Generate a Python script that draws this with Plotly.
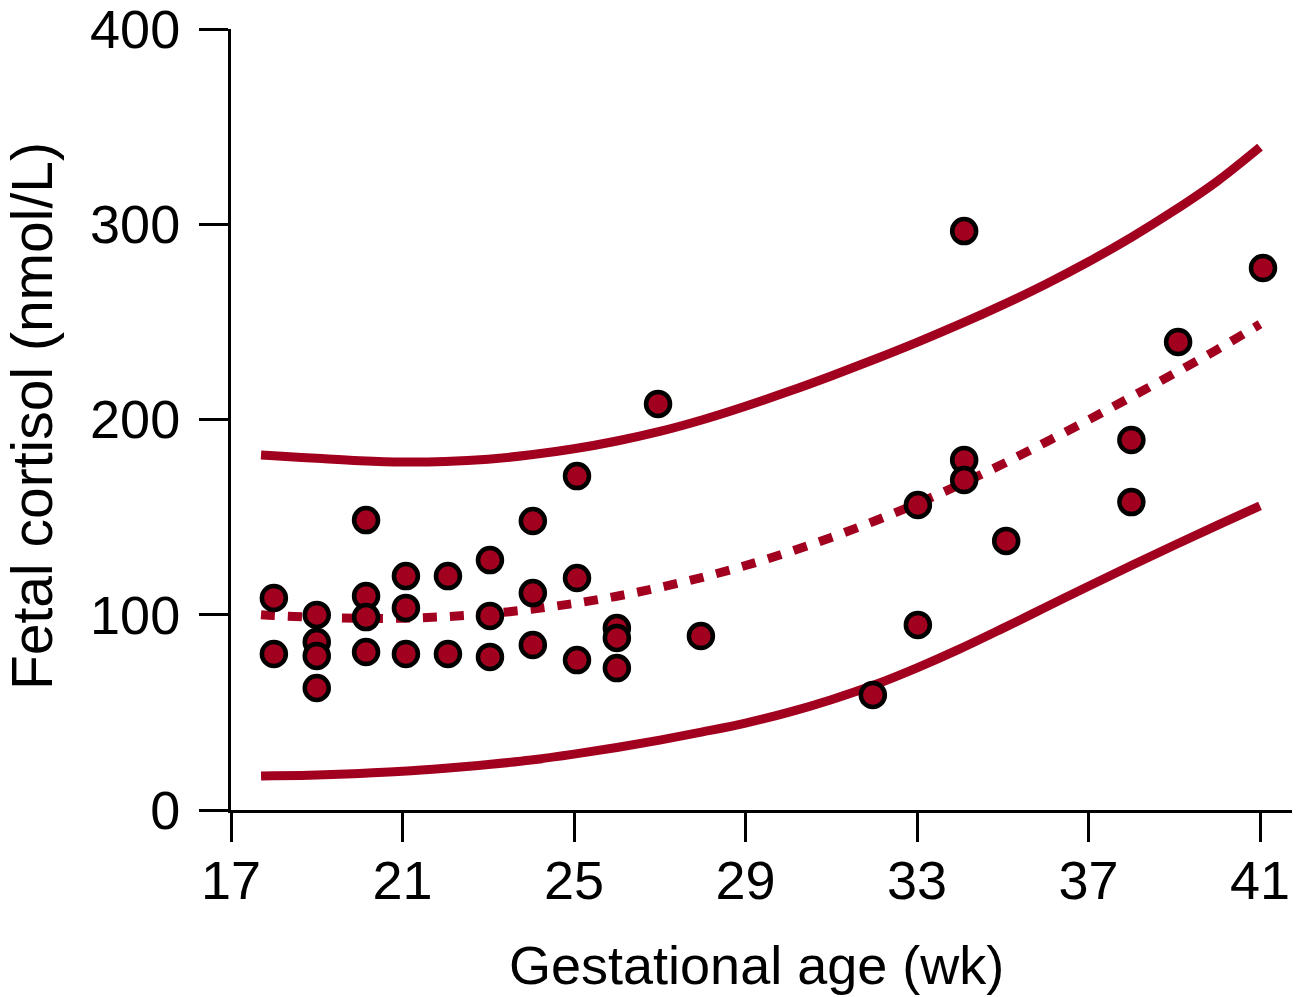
import plotly.graph_objects as go

# Observed data points (gestational age in weeks, fetal cortisol nmol/L)
weeks = [18.0, 18.0, 19.0, 19.0, 19.0, 19.0,
         20.15, 20.15, 20.15, 20.15,
         21.08, 21.08, 21.08,
         22.06, 22.06,
         23.04, 23.04, 23.04,
         24.04, 24.04, 24.04,
         25.07, 25.07, 25.07,
         26.0, 26.0, 26.0,
         26.96, 27.96, 31.97,
         33.02, 33.02,
         34.1, 34.1, 34.1,
         35.08, 38.0, 38.0, 39.09, 41.07]
cortisol = [108.6, 79.9, 99.9, 86.0, 78.9, 62.5,
            148.5, 109.6, 98.8, 80.9,
            119.8, 103.5, 79.9,
            119.8, 79.9,
            128.0, 99.4, 78.4,
            148.0, 111.1, 84.5,
            171.0, 118.8, 76.8,
            93.2, 88.1, 72.7,
            208.0, 89.1, 58.9,
            156.2, 94.8,
            296.5, 179.3, 169.0,
            137.8, 189.5, 157.7, 239.7, 277.6]

# Curves
curve_weeks = [17.7, 18, 19, 20, 21, 22, 23, 24, 25, 26, 27, 28, 29,
               30, 31, 32, 33, 34, 35, 36, 37, 38, 39, 40, 41]
upper = [181.8, 181.4, 180.1, 178.9, 178.2, 178.5, 179.7, 181.9, 185.0, 189.0,
         193.9, 199.9, 206.8, 214.3, 222.3, 230.7, 239.5, 248.8, 258.7, 269.3,
         280.8, 293.3, 307.0, 322.0, 339.5]
mean = [100.0, 99.6, 98.7, 98.2, 98.2, 99.0, 100.5, 102.8, 105.8, 109.5,
        114.0, 119.2, 125.2, 132.0, 139.6, 147.9, 156.9, 166.7, 177.2, 188.4,
        199.8, 211.6, 223.6, 235.8, 248.8]
lower = [17.4, 17.5, 17.9, 18.7, 19.8, 21.4, 23.3, 25.6, 28.6, 32.0,
         35.8, 40.0, 44.5, 50.0, 56.5, 64.0, 72.8, 82.5, 93.0, 103.8,
         114.6, 125.2, 135.6, 145.8, 155.8]

x_ticks = [17, 21, 25, 29, 33, 37, 41]
y_ticks = [0, 100, 200, 300, 400]

RED = "#A2001F"
FONT = "Liberation Sans, Arial, Helvetica, sans-serif"

fig = go.Figure()
fig.add_trace(go.Scatter(x=curve_weeks, y=upper, mode="lines",
                         line=dict(color=RED, width=9, shape="spline"),
                         showlegend=False, hoverinfo="skip"))
fig.add_trace(go.Scatter(x=curve_weeks, y=lower, mode="lines",
                         line=dict(color=RED, width=9, shape="spline"),
                         showlegend=False, hoverinfo="skip"))
fig.add_trace(go.Scatter(x=curve_weeks, y=mean, mode="lines",
                         line=dict(color=RED, width=9, shape="spline", dash="14px,13px"),
                         showlegend=False, hoverinfo="skip"))
fig.add_trace(go.Scatter(x=weeks, y=cortisol, mode="markers",
                         marker=dict(size=24, color=RED, line=dict(color="black", width=4.5)),
                         showlegend=False, cliponaxis=False))

fig.update_layout(
    width=1292, height=989,
    margin=dict(l=223, r=0, t=21, b=187),
    paper_bgcolor="white", plot_bgcolor="white",
    font=dict(family=FONT, size=54, color="black"),
    annotations=[
        dict(text="Gestational age (wk)", xref="paper", yref="paper", x=0.5, y=0,
             xanchor="center", yanchor="middle", xshift=-9.5, yshift=-155,
             showarrow=False, font=dict(size=54)),
        dict(text="Fetal cortisol (nmol/L)", xref="paper", yref="paper", x=0, y=0.5,
             xanchor="center", yanchor="middle", xshift=-199, yshift=3.5,
             textangle=-90, showarrow=False, font=dict(size=57)),
    ],
)
fig.update_xaxes(
    range=[17, 17 + (1300 - 231) / 42.875],
    tickvals=x_ticks, ticktext=[str(v) for v in x_ticks],
    ticks="outside", ticklen=29, tickwidth=3, tickcolor="black",
    showline=True, linewidth=3, linecolor="black",
    showgrid=False, zeroline=False,
    tickfont=dict(size=54), ticklabelstandoff=-8, ticklabeloverflow="allow",
    automargin=False,
)
fig.update_yaxes(
    range=[0, 400],
    tickvals=y_ticks, ticktext=[str(v) for v in y_ticks],
    ticks="outside", ticklen=29, tickwidth=3, tickcolor="black",
    showline=True, linewidth=3, linecolor="black",
    showgrid=False, zeroline=False,
    tickfont=dict(size=54), ticklabelstandoff=8, ticklabeloverflow="allow",
    automargin=False,
)

fig.write_html("out.html")
